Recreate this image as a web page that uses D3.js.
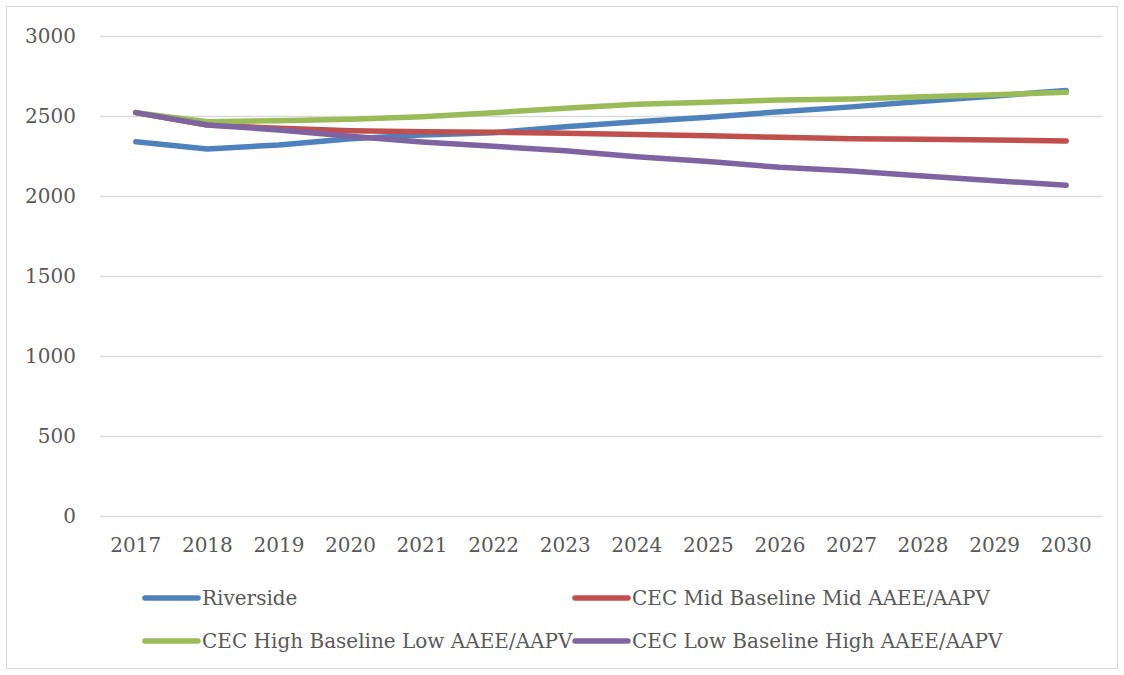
<!DOCTYPE html>
<html><head><meta charset="utf-8">
<script src="https://cdn.jsdelivr.net/npm/d3@7"></script>
<style>body{margin:0;background:#fff}svg text{font-family:"DejaVu Serif",serif;fill:#595959}</style>
</head><body>
<svg id="c" width="1124" height="675"></svg>
<script>
const years = ["2017","2018","2019","2020","2021","2022","2023","2024","2025","2026","2027","2028","2029","2030"];
const riverside = [2339,2294,2319,2358,2381,2396,2433,2464,2492,2527,2557,2592,2625,2660];
const cecMid    = [2521,2444,2423,2408,2402,2398,2392,2385,2377,2367,2358,2354,2350,2344];
const cecHigh   = [2521,2464,2471,2479,2496,2521,2548,2573,2586,2600,2606,2621,2633,2648];
const cecLow    = [2521,2444,2413,2373,2338,2311,2283,2246,2215,2179,2156,2125,2096,2067];
const yTicks = [0,500,1000,1500,2000,2500,3000];
const seriesNames = ["Riverside","CEC Mid Baseline Mid AAEE/AAPV","CEC High Baseline Low AAEE/AAPV","CEC Low Baseline High AAEE/AAPV"];
const seriesColors = ["#4F81BD","#C0504D","#9BBB59","#8064A2"];
const seriesData = [riverside, cecMid, cecHigh, cecLow];

const svg = d3.select("#c");
svg.append("rect").attr("x",6.5).attr("y",6.5).attr("width",1111).attr("height",662)
  .attr("fill","#fff").attr("stroke","#D9D9D9").attr("stroke-width",1);

const L=100,R=1102,T=36,B=516;
const x = d3.scaleBand().domain(years).range([L,R]);
const y = d3.scaleLinear().domain([0,3000]).range([B,T]);

svg.append("g").selectAll("line").data(yTicks).join("line")
  .attr("x1",L).attr("x2",R).attr("y1",d=>y(d)+0.5).attr("y2",d=>y(d)+0.5)
  .attr("stroke","#D9D9D9").attr("stroke-width",1.3);

const ya = svg.append("g").attr("transform",`translate(${L},0)`)
  .call(d3.axisLeft(y).tickValues(yTicks).tickFormat(d3.format("d")).tickSize(0).tickPadding(24));
ya.select(".domain").remove();
ya.selectAll("text").attr("font-size",20).attr("font-family","DejaVu Serif").attr("fill","#595959");

const xa = svg.append("g").attr("transform",`translate(0,${B})`)
  .call(d3.axisBottom(x).tickSize(0).tickPadding(22));
xa.select(".domain").remove();
xa.selectAll("text").attr("font-size",20).attr("font-family","DejaVu Serif").attr("fill","#595959");

const line = d3.line().x((d,i)=>x(years[i])+x.bandwidth()/2).y(d=>y(d));
seriesData.forEach((s,k)=>{
  svg.append("path").datum(s).attr("d",line).attr("fill","none")
    .attr("stroke",seriesColors[k]).attr("stroke-width",5.5)
    .attr("stroke-linecap","round").attr("stroke-linejoin","round");
});

const legPos = [[145,598],[575,598],[145,641],[575,641]];
seriesNames.forEach((n,k)=>{
  const [lx,ly]=legPos[k];
  svg.append("line").attr("x1",lx).attr("x2",lx+53).attr("y1",ly).attr("y2",ly)
    .attr("stroke",seriesColors[k]).attr("stroke-width",5.5).attr("stroke-linecap","round");
  svg.append("text").attr("x",lx+57).attr("y",ly).attr("dy","0.35em")
    .attr("font-size",20).text(n);
});
</script>
</body></html>
